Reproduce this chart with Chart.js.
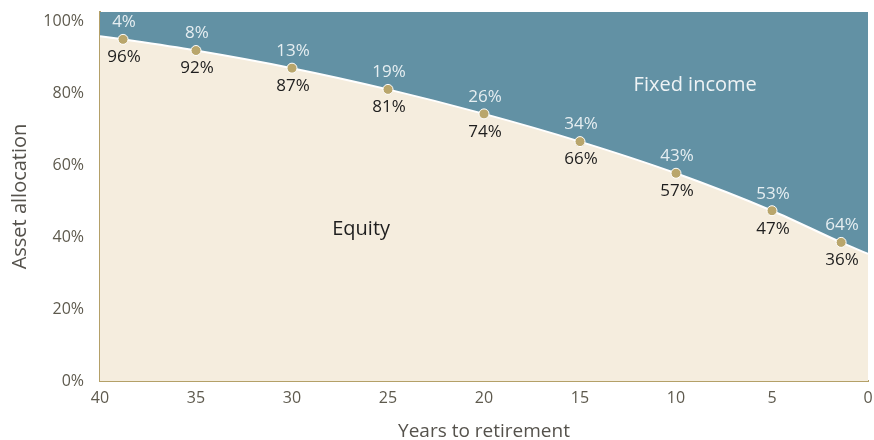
<!DOCTYPE html>
<html>
<head>
<meta charset="utf-8">
<script src="https://cdn.jsdelivr.net/npm/chart.js@4.4.1/dist/chart.umd.min.js"></script>
<style>
  html, body { margin: 0; padding: 0; background: #ffffff; }
  #wrap { width: 874px; height: 440px; }
</style>
</head>
<body>
<div id="wrap"><canvas id="c" width="874" height="440"></canvas></div>
<script>
// ---- data ----
const curveYears  = [40, 38.8, 35, 30, 25, 20, 15, 10, 5, 1.4, 0];
const curveEquity = [95.8, 94.9, 91.8, 86.9, 81.0, 74.2, 66.5, 57.7, 47.3, 38.5, 35.3];
const markerYears  = [38.8, 35, 30, 25, 20, 15, 10, 5, 1.4];
const markerEquity = [94.9, 91.8, 86.9, 81.0, 74.2, 66.5, 57.7, 47.3, 38.5];
const equityLabels = ['96%', '92%', '87%', '81%', '74%', '66%', '57%', '47%', '36%'];
const fixedLabels  = ['4%', '8%', '13%', '19%', '26%', '34%', '43%', '53%', '64%'];
const xTickValues = [40, 35, 30, 25, 20, 15, 10, 5, 0];
const yTickValues = [0, 20, 40, 60, 80, 100];
const areaNames = ['Equity', 'Fixed income'];

const FONT = "'Open Sans', 'Noto Sans', sans-serif";
const toPts = (xs, ys) => xs.map((x, i) => ({ x: x, y: ys[i] }));

const labelPlugin = {
  id: 'labels',
  afterDatasetsDraw(chart) {
    const ctx = chart.ctx;
    const meta = chart.getDatasetMeta(0);
    const xs = chart.scales.x, ys = chart.scales.y;
    ctx.save();
    ctx.font = '17px ' + FONT;
    ctx.textAlign = 'center';
    ctx.textBaseline = 'middle';
    meta.data.forEach((pt, i) => {
      ctx.fillStyle = '#E6EEF1';
      ctx.fillText(fixedLabels[i], pt.x + 1, pt.y - 17);
      ctx.fillStyle = '#1E1E1E';
      ctx.fillText(equityLabels[i], pt.x + 1, pt.y + 18);
    });
    ctx.font = '20px ' + FONT;
    ctx.fillStyle = '#1E1E1E';
    ctx.fillText(areaNames[0], xs.getPixelForValue(26.4), ys.getPixelForValue(42.1));
    ctx.fillStyle = '#EEF3F5';
    ctx.fillText(areaNames[1], xs.getPixelForValue(9), ys.getPixelForValue(82.2));
    ctx.restore();
  }
};

new Chart(document.getElementById('c'), {
  type: 'scatter',
  data: {
    datasets: [
      {
        label: 'markers',
        data: toPts(markerYears, markerEquity),
        showLine: false,
        pointRadius: 5,
        pointHoverRadius: 5,
        pointBackgroundColor: '#B9A66C',
        pointBorderColor: '#FFFFFF',
        pointBorderWidth: 1,
        order: 0
      },
      {
        label: 'Equity',
        data: toPts(curveYears, curveEquity),
        showLine: true,
        cubicInterpolationMode: 'monotone',
        borderColor: '#FFFFFF',
        borderWidth: 2,
        pointRadius: 0,
        fill: 'origin',
        backgroundColor: '#F5EDDE',
        order: 1
      },
      {
        label: 'Fixed income',
        data: toPts(curveYears, curveEquity),
        showLine: true,
        cubicInterpolationMode: 'monotone',
        borderWidth: 0,
        borderColor: 'rgba(0,0,0,0)',
        pointRadius: 0,
        fill: 'end',
        backgroundColor: '#6291A4',
        order: 2
      }
    ]
  },
  options: {
    responsive: false,
    animation: false,
    layout: { padding: { left: 0, right: 6, top: 12, bottom: 0 } },
    plugins: { legend: { display: false }, tooltip: { enabled: false } },
    scales: {
      x: {
        type: 'linear',
        reverse: true,
        min: 0, max: 40,
        afterBuildTicks: s => { s.ticks = xTickValues.map(v => ({ value: v })); },
        afterFit: s => { s.height = 59; s.paddingLeft = 0; s.paddingRight = 0; },
        grid: { display: false },
        border: { display: true, color: '#B4A068', width: 2 },
        ticks: { color: '#5E5A4E', font: { family: FONT, size: 16 }, padding: 0, maxRotation: 0 },
        title: { display: true, text: 'Years to retirement', color: '#55524C',
                 font: { family: FONT, size: 19, lineHeight: 0.85 }, padding: { top: 0, bottom: 0 } }
      },
      y: {
        type: 'linear',
        min: 0, max: 102.5,
        afterBuildTicks: s => { s.ticks = yTickValues.map(v => ({ value: v })); },
        afterFit: s => { s.width = 100; s.paddingTop = 0; s.paddingBottom = 0; },
        grid: { display: false },
        border: { display: true, color: '#B4A068', width: 2 },
        ticks: { color: '#5E5A4E', font: { family: FONT, size: 16 }, padding: 8,
                 callback: v => v + '%' },
        title: { display: true, text: 'Asset allocation', color: '#55524C',
                 font: { family: FONT, size: 20, lineHeight: 1.2 }, padding: { top: 8, bottom: 0 } }
      }
    }
  },
  plugins: [labelPlugin]
});
</script>
</body>
</html>
